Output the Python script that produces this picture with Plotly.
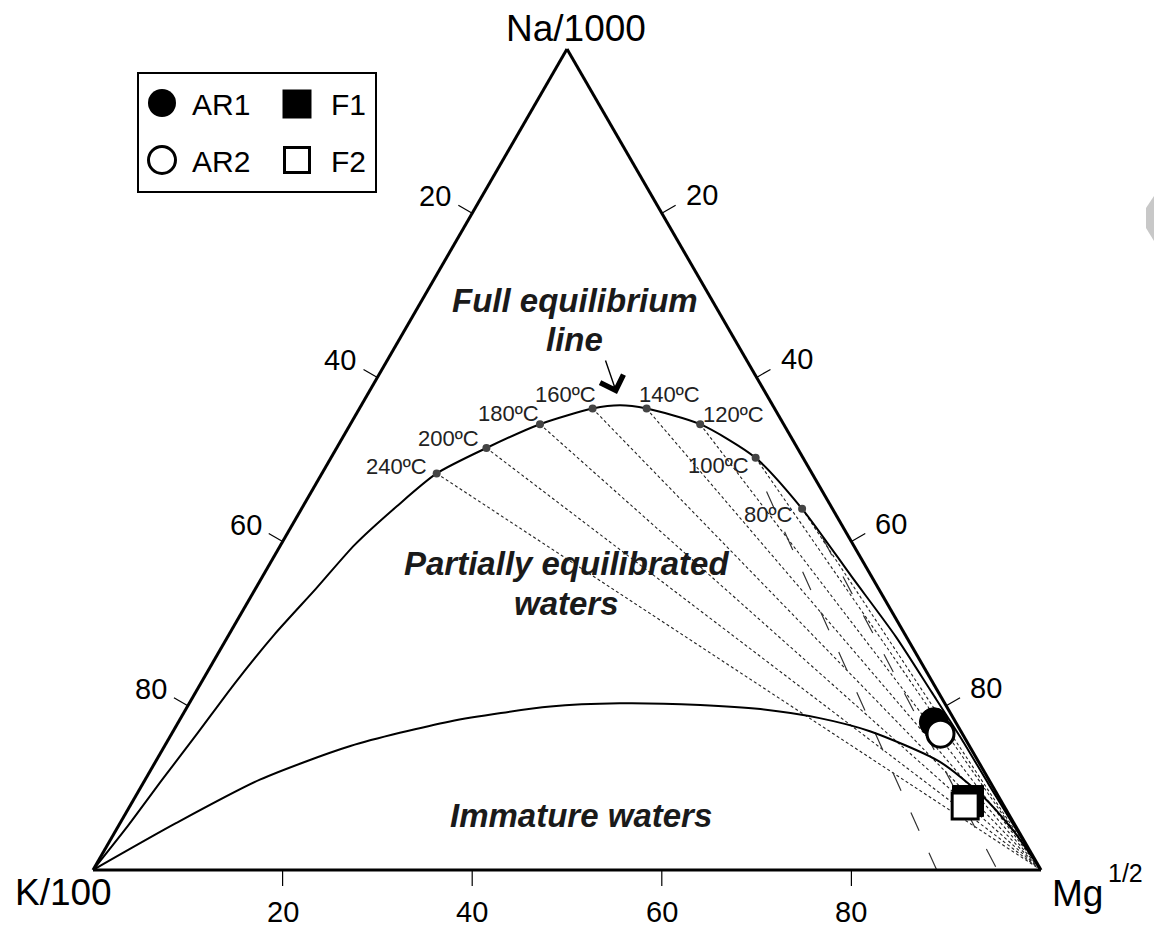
import plotly.graph_objects as go

# Ternary coordinates in percent: Na/1000 (a), K/100 (b), Mg^1/2 (c)

# Full equilibrium line
feq_na = [0, 5.4, 11.0, 16.7, 22.8, 28.7, 34.3, 39.6, 44.3, 48.3, 51.4, 54.3, 56.2, 56.6,
          56.2, 54.3, 50.2, 44.0, 35.7, 28.4, 21.6, 15.9, 10.4, 0]
feq_k = [100, 93.6, 87.2, 80.6, 73.6, 66.5, 59.3, 52.6, 45.8, 39.6, 32.8, 25.7, 19.2, 16.1,
         13.5, 8.8, 5.0, 3.2, 2.1, 1.1, 0.7, 0.4, 0.3, 0]
feq_mg = [0, 1.0, 1.8, 2.7, 3.6, 4.8, 6.4, 7.8, 9.9, 12.1, 15.8, 20.0, 24.6, 27.3,
          30.3, 36.9, 44.8, 52.8, 62.2, 70.5, 77.7, 83.7, 89.3, 100]

# Temperature points on the full equilibrium line
temp_labels = ["240ºC", "200ºC", "180ºC", "160ºC", "140ºC", "120ºC", "100ºC", "80ºC"]
temp_na = [48.3, 51.4, 54.3, 56.2, 56.2, 54.3, 50.2, 44.0]
temp_k = [39.6, 32.8, 25.7, 19.2, 13.5, 8.8, 5.0, 3.2]
temp_mg = [12.1, 15.8, 20.0, 24.6, 30.3, 36.9, 44.8, 52.8]
# label centres (page pixel frame)
temp_lab_x = [396, 448, 508, 565, 669, 733, 718, 768]
temp_lab_y = [466, 438, 413, 394, 394, 414, 465, 514]

# Immature waters boundary
imm_na = [0, 5.7, 11.0, 15.1, 18.1, 19.9, 20.3, 20.1, 19.6, 18.5, 16.9, 13.2, 9.1, 4.6, 0]
imm_k = [100, 88.4, 76.9, 65.3, 53.3, 41.8, 34.3, 25.9, 19.8, 14.1, 9.6, 4.1, 1.7, 0.5, 0]
imm_mg = [0, 5.9, 12.1, 19.6, 28.6, 38.3, 45.4, 54.0, 60.6, 67.4, 73.5, 82.7, 89.2, 94.9, 100]

# K-Mg isotherms radiating from the Na corner
kmg_na = [[46.1, 0], [40.5, 0]]
kmg_k = [[5.9, 11.0], [2.8, 4.6]]
kmg_mg = [[48.0, 89.0], [56.7, 95.4]]

# Samples
samples = ["AR1", "AR2", "F1", "F2"]
smp_na = [18.0, 16.6, 8.4, 7.8]
smp_k = [2.3, 2.3, 3.5, 4.1]
smp_mg = [79.7, 81.1, 88.1, 88.1]
smp_symbol = ["circle", "circle", "square", "square"]
smp_fill = ["black", "white", "black", "white"]
smp_size = [29, 27, 31, 26]
smp_lw = [1, 3, 1, 3]

# Edge scale ticks
tick_vals = [20, 40, 60, 80]

FONT = "Liberation Sans, Arial, sans-serif"
W, H = 1154, 935
# triangle placement on the page: K corner, Mg corner, Na apex
X_K, X_MG, X_NA = 93, 1041, 567
Y_BASE, Y_APEX = 870, 49


def page_xy(a, b, c):
    """Ternary percentages -> page pixel frame of the overlay axes."""
    x = (X_NA * a + X_K * b + X_MG * c) / 100.0
    y = Y_BASE - (Y_BASE - Y_APEX) * a / 100.0
    return x, y


fig = go.Figure()

# Na/K isotherms: from each equilibrium point to the Mg corner
for a, b, c in zip(temp_na, temp_k, temp_mg):
    fig.add_trace(go.Scatterternary(
        a=[a, 0], b=[b, 0], c=[c, 100], mode="lines",
        line=dict(color="#222222", width=1.1, dash="3px,2.5px"), hoverinfo="skip"))

for a, b, c in zip(kmg_na, kmg_k, kmg_mg):
    fig.add_trace(go.Scatterternary(
        a=a, b=b, c=c, mode="lines",
        line=dict(color="#333333", width=1.2, dash="20px,24px"), hoverinfo="skip"))

fig.add_trace(go.Scatterternary(
    a=imm_na, b=imm_k, c=imm_mg, mode="lines",
    line=dict(color="black", width=2, shape="spline", smoothing=0.7)))

fig.add_trace(go.Scatterternary(
    a=feq_na, b=feq_k, c=feq_mg, mode="lines",
    line=dict(color="black", width=2, shape="spline", smoothing=0.7)))

fig.add_trace(go.Scatterternary(
    a=temp_na, b=temp_k, c=temp_mg, mode="markers",
    marker=dict(color="#444444", size=8)))

for i in range(len(samples)):
    fig.add_trace(go.Scatterternary(
        a=[smp_na[i]], b=[smp_k[i]], c=[smp_mg[i]], mode="markers", name=samples[i],
        marker=dict(symbol=smp_symbol[i], size=smp_size[i], color=smp_fill[i],
                    line=dict(color="black", width=smp_lw[i]))))

# Edge ticks, perpendicular to each side
TL = 16
tx, ty = [], []
ann = []


def txt(x, y, s, size, xanchor="center", color="black"):
    ann.append(dict(x=x, y=y, xref="x", yref="y", text=s, showarrow=False,
                    xanchor=xanchor, yanchor="middle",
                    font=dict(size=size, family=FONT, color=color)))


for v in tick_vals:
    # left side (Na-K): K percentage
    x0, y0 = page_xy(100 - v, v, 0)
    tx += [x0, x0 - 0.866 * TL, None]
    ty += [y0, y0 - 0.5 * TL, None]
    txt(x0 - 37, y0 - 17, str(v), 29)
    # right side (Na-Mg): Mg percentage
    x0, y0 = page_xy(100 - v, 0, v)
    tx += [x0, x0 + 0.866 * TL, None]
    ty += [y0, y0 - 0.5 * TL, None]
    txt(x0 + 40, y0 - 18, str(v), 29)
    # base (K-Mg): Mg percentage
    x0, y0 = page_xy(0, 100 - v, v)
    tx += [x0, x0, None]
    ty += [y0, y0 + TL, None]
    txt(x0, y0 + 42, str(v), 29)

fig.add_trace(go.Scatter(x=tx, y=ty, mode="lines", xaxis="x", yaxis="y",
                         line=dict(color="black", width=1.2), hoverinfo="skip"))

# Legend drawn on the overlay frame
leg_x = [162, 162, 297, 297]
leg_y = [103, 160, 104, 160]
leg_size = [28, 27, 29, 25]
for i in range(len(samples)):
    fig.add_trace(go.Scatter(
        x=[leg_x[i]], y=[leg_y[i]], mode="markers", xaxis="x", yaxis="y",
        marker=dict(symbol=smp_symbol[i], size=leg_size[i], color=smp_fill[i],
                    line=dict(color="black", width=smp_lw[i] if smp_lw[i] > 1 else 0))))

fig.update_layout(
    width=W, height=H,
    margin=dict(l=0, r=0, t=0, b=0),
    paper_bgcolor="white", plot_bgcolor="rgba(0,0,0,0)",
    showlegend=False,
    font=dict(family=FONT, color="black"),
    ternary=dict(
        domain=dict(x=[X_K / W, X_MG / W], y=[(H - Y_BASE) / H, (H - Y_APEX) / H]),
        sum=100, bgcolor="rgba(0,0,0,0)",
        aaxis=dict(title=dict(text=""), showticklabels=False, ticks="", showgrid=False,
                   linecolor="black", linewidth=3, min=0),
        baxis=dict(title=dict(text=""), showticklabels=False, ticks="", showgrid=False,
                   linecolor="black", linewidth=3, min=0),
        caxis=dict(title=dict(text=""), showticklabels=False, ticks="", showgrid=False,
                   linecolor="black", linewidth=3, min=0),
    ),
    xaxis=dict(range=[0, W], visible=False, domain=[0, 1], fixedrange=True),
    yaxis=dict(range=[H, 0], visible=False, domain=[0, 1], fixedrange=True),
)

# corner titles
txt(576, 28, "Na/1000", 37)
txt(63, 892, "K/100", 37)
txt(1077, 893, "Mg", 37)
txt(1125, 873, "1/2", 25)

# legend labels
txt(190, 104, "AR1", 30, "left")
txt(190, 161, "AR2", 30, "left")
txt(329, 104, "F1", 30, "left")
txt(329, 161, "F2", 30, "left")

# temperature labels
for s, x, y in zip(temp_labels, temp_lab_x, temp_lab_y):
    txt(x, y, s, 22, color="#222222")

# field labels
txt(575, 300, "<b><i>Full equilibrium</i></b>", 33, color="#1a1a1a")
txt(574, 339, "<b><i>line</i></b>", 33, color="#1a1a1a")
txt(566, 563, "<b><i>Partially equilibrated</i></b>", 33, color="#1a1a1a")
txt(566, 603, "<b><i>waters</i></b>", 33, color="#1a1a1a")
txt(581, 815, "<b><i>Immature waters</i></b>", 33, color="#1a1a1a")

# arrow to the top of the equilibrium line
ann.append(dict(x=617, y=394, ax=605, ay=359, xref="x", yref="y", axref="x", ayref="y",
                showarrow=True, arrowhead=4, arrowsize=3.4, arrowwidth=1.4,
                arrowcolor="black", text=""))

fig.update_layout(annotations=ann)

# legend frame and page mark
fig.add_shape(type="rect", xref="x", yref="y", x0=138, x1=376, y0=73, y1=192,
              line=dict(color="black", width=2), fillcolor="rgba(0,0,0,0)")
fig.add_shape(type="path", xref="x", yref="y",
              path="M 1146,208 L 1154,196 L 1154,241 L 1146,228 Z",
              line=dict(width=0), fillcolor="#c8c8c8")

fig.write_html("out.html")
